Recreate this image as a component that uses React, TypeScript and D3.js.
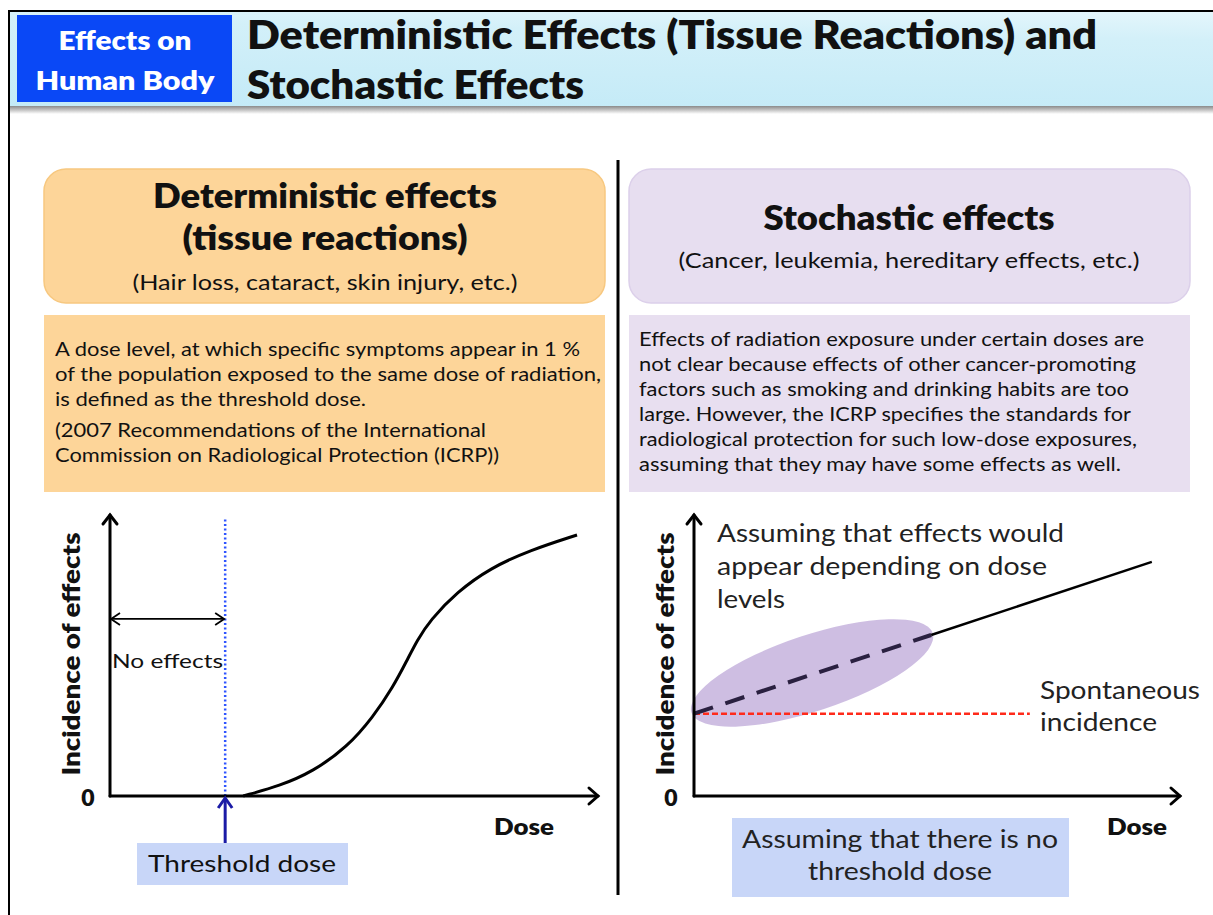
import React from 'react';
import * as d3 from 'd3';

// ---- text content ----
const BADGE_LINES = ['Effects on', 'Human Body'];
const TITLE_LINES = ['Deterministic Effects (Tissue Reactions) and', 'Stochastic Effects'];

const DET_HEADING = ['Deterministic effects', '(tissue reactions)'];
const DET_EXAMPLES = '(Hair loss, cataract, skin injury, etc.)';
const DET_PARAGRAPH = [
  'A dose level, at which specific symptoms appear in 1 %',
  'of the population exposed to the same dose of radiation,',
  'is defined as the threshold dose.',
  '(2007 Recommendations of the International',
  'Commission on Radiological Protection (ICRP))',
];
const DET_PARAGRAPH_WIDTHS = [525, 546, 311, 431, 444];

const STO_HEADING = 'Stochastic effects';
const STO_EXAMPLES = '(Cancer, leukemia, hereditary effects, etc.)';
const STO_PARAGRAPH = [
  'Effects of radiation exposure under certain doses are',
  'not clear because effects of other cancer-promoting',
  'factors such as smoking and drinking habits are too',
  'large. However, the ICRP specifies the standards for',
  'radiological protection for such low-dose exposures,',
  'assuming that they may have some effects as well.',
];
const STO_PARAGRAPH_WIDTHS = [505, 497, 490, 492, 498, 482];

const STO_NOTE = ['Assuming that effects would', 'appear depending on dose', 'levels'];
const SPONT_LABEL = ['Spontaneous', 'incidence'];
const NO_THRESHOLD_LABEL = ['Assuming that there is no', 'threshold dose'];

// ---- chart values (dose / incidence, 0..100 schematic units) ----
const DET_CURVE_DOSE = [27.3, 27.3, 34.8, 41.6, 48.6, 53.9, 58.0, 60.9, 62.9, 65.6, 71.1, 77.9, 86.1, 95.7, 95.7];
const DET_CURVE_INCIDENCE = [0, 0, 3.6, 8.7, 17.4, 28.1, 38.8, 48.4, 55.3, 62.6, 72.6, 81.1, 87.5, 92.9, 92.9];
const THRESHOLD_DOSE = 23.6;
const NO_EFFECT_LEVEL = 63;

const LNT_DOSE = [0, 48.8, 94.2];
const LNT_INCIDENCE = [29.3, 57.3, 83.3];
const SPONT_DOSE = [0, 69.1];
const SPONT_INCIDENCE = [29.3, 29.3];
const UNCERTAIN_CENTER = [24.3, 43.8]; // dose, incidence

const FONT = "Lato, Carlito, 'Open Sans', sans-serif";

type Pt = [number, number];

const T: React.FC<{
  x: number; y: number; size: number; w?: number; bold?: boolean;
  anchor?: 'start' | 'middle' | 'end'; fill?: string; children: string; transform?: string;
}> = ({ x, y, size, w, bold, anchor = 'start', fill = '#111', children, transform }) => (
  <text
    x={x} y={y} fontSize={size} fontWeight={bold ? 800 : 400} textAnchor={anchor}
    fill={fill} fontFamily={FONT} transform={transform}
    {...(w ? { textLength: w, lengthAdjust: 'spacingAndGlyphs' } : {})}
  >{children}</text>
);

const Axes: React.FC<{ x0: number; x1: number; y0: number; y1: number }> = ({ x0, x1, y0, y1 }) => (
  <g stroke="#000" strokeWidth={3} fill="none" strokeLinecap="round">
    <line x1={x0} y1={y0} x2={x1} y2={y0} />
    <line x1={x0} y1={y0} x2={x0} y2={y1} />
    <path d={`M${x1 - 9},${y0 - 8} L${x1},${y0} L${x1 - 9},${y0 + 8}`} />
    <path d={`M${x0 - 7},${y1 + 9} L${x0},${y1} L${x0 + 7},${y1 + 9}`} />
  </g>
);

export default function App() {
  // left chart scales
  const xL = d3.scaleLinear().domain([0, 100]).range([110, 598]);
  const yL = d3.scaleLinear().domain([0, 100]).range([796, 515]);
  // right chart scales
  const xR = d3.scaleLinear().domain([0, 100]).range([694, 1180]);
  const yR = d3.scaleLinear().domain([0, 100]).range([796, 515]);

  const detPts: Pt[] = DET_CURVE_DOSE.map((d, i) => [d, DET_CURVE_INCIDENCE[i]]);
  const detLine = d3.line<Pt>().x(d => xL(d[0])).y(d => yL(d[1])).curve(d3.curveBasis);

  const lnt: Pt[] = LNT_DOSE.map((d, i) => [d, LNT_INCIDENCE[i]]);
  const lineR = d3.line<Pt>().x(d => xR(d[0])).y(d => yR(d[1]));
  const spont: Pt[] = SPONT_DOSE.map((d, i) => [d, SPONT_INCIDENCE[i]]);

  const thX = xL(THRESHOLD_DOSE);
  const noEffY = yL(NO_EFFECT_LEVEL);
  const ex = xR(UNCERTAIN_CENTER[0]);
  const ey = yR(UNCERTAIN_CENTER[1]);

  return (
    <svg width={1213} height={915} style={{ position: 'absolute', left: 0, top: 0, background: '#fff' }}>
      <defs>
        <linearGradient id="hdr" x1="0" y1="1" x2="0.35" y2="-0.6">
          <stop offset="0" stopColor="#c3eaf7" />
          <stop offset="0.55" stopColor="#d3f0f9" />
          <stop offset="1" stopColor="#ffffff" />
        </linearGradient>
        <linearGradient id="shadow" x1="0" y1="0" x2="0" y2="1">
          <stop offset="0" stopColor="#8a8a8a" />
          <stop offset="1" stopColor="#ffffff" />
        </linearGradient>
      </defs>

      {/* page frame & header */}
      <rect x={10} y={12} width={1203} height={95} fill="url(#hdr)" />
      <rect x={10} y={106} width={1203} height={8} fill="url(#shadow)" />
      <line x1={8} y1={11} x2={1213} y2={11} stroke="#000" strokeWidth={2} />
      <line x1={9} y1={11} x2={9} y2={915} stroke="#000" strokeWidth={2} />
      <rect x={17} y={15} width={215} height={87} fill="#0a48f6" />
      {BADGE_LINES.map((s, i) => (
        <T key={s} x={125} y={50 + i * 40} size={27} anchor="middle" fill="#fff" bold
          w={i === 0 ? 133 : 179}>{s}</T>
      ))}
      {TITLE_LINES.map((s, i) => (
        <T key={s} x={247} y={49 + i * 50} size={39} bold w={i === 0 ? 850 : 337}>{s}</T>
      ))}

      {/* divider */}
      <line x1={618} y1={160} x2={618} y2={895} stroke="#000" strokeWidth={3} />

      {/* left panel boxes */}
      <rect x={44} y={169} width={561} height={134} rx={22} fill="#fdd599" stroke="#f7c880" strokeWidth={1.5} />
      <T x={325} y={208} size={33} bold anchor="middle" w={344}>{DET_HEADING[0]}</T>
      <T x={325} y={250} size={33} bold anchor="middle" w={285}>{DET_HEADING[1]}</T>
      <T x={325} y={290} size={21} anchor="middle" w={385}>{DET_EXAMPLES}</T>
      <rect x={44} y={315} width={561} height={177} fill="#fdd599" />
      {DET_PARAGRAPH.map((s, i) => (
        <T key={s} x={55} y={i < 3 ? 356 + i * 25 : 437 + (i - 3) * 25} size={19} w={DET_PARAGRAPH_WIDTHS[i]}>{s}</T>
      ))}

      {/* right panel boxes */}
      <rect x={629} y={169} width={561} height={134} rx={22} fill="#e7def0" stroke="#dcd0ea" strokeWidth={1.5} />
      <T x={909} y={230} size={33} bold anchor="middle" w={291}>{STO_HEADING}</T>
      <T x={909} y={268} size={21} anchor="middle" w={461}>{STO_EXAMPLES}</T>
      <rect x={629} y={315} width={561} height={177} fill="#e8dff0" />
      {STO_PARAGRAPH.map((s, i) => (
        <T key={s} x={639} y={346 + i * 25} size={18.5} w={STO_PARAGRAPH_WIDTHS[i]}>{s}</T>
      ))}

      {/* ---- left chart: deterministic ---- */}
      <line x1={thX} y1={yL(0)} x2={thX} y2={yL(99)} stroke="#2f55ff" strokeWidth={2.5} strokeDasharray="2,2.5" />
      <Axes x0={xL(0)} x1={xL(100)} y0={yL(0)} y1={yL(100)} />
      <path d={detLine(detPts) || ''} fill="none" stroke="#000" strokeWidth={3} />
      <g stroke="#000" strokeWidth={1.8} fill="none">
        <line x1={xL(0) + 1} y1={noEffY} x2={thX - 1} y2={noEffY} />
        <path d={`M${xL(0) + 10},${noEffY - 6} L${xL(0) + 1},${noEffY} L${xL(0) + 10},${noEffY + 6}`} />
        <path d={`M${thX - 10},${noEffY - 6} L${thX - 1},${noEffY} L${thX - 10},${noEffY + 6}`} />
      </g>
      <T x={112} y={668} size={19} w={111}>No effects</T>
      <T x={88} y={806} size={23} bold anchor="middle">0</T>
      <T x={554} y={835} size={23} bold anchor="end" w={60}>Dose</T>
      <T x={0} y={0} size={24} bold anchor="middle" w={243} transform="translate(80,654) rotate(-90)">Incidence of effects</T>
      <g stroke="#1b1ba6" strokeWidth={3} fill="none">
        <line x1={thX} y1={845} x2={thX} y2={yL(0) + 3} />
        <path d={`M${thX - 7},${yL(0) + 12} L${thX},${yL(0) + 2} L${thX + 7},${yL(0) + 12}`} />
      </g>
      <rect x={137} y={843} width={211} height={42} fill="#c8d6f8" />
      <T x={242} y={872} size={24} anchor="middle" w={188}>Threshold dose</T>

      {/* ---- right chart: stochastic ---- */}
      <ellipse cx={ex} cy={ey} rx={127} ry={38} fill="#bda8d8" opacity={0.75}
        transform={`rotate(-18.3 ${ex} ${ey})`} />
      <path d={lineR(spont) || ''} fill="none" stroke="#ff2a1a" strokeWidth={2.5} strokeDasharray="6,3" />
      <path d={lineR(lnt.slice(0, 2)) || ''} fill="none" stroke="#2a2040" strokeWidth={4} strokeDasharray="20,13" />
      <path d={lineR(lnt.slice(1)) || ''} fill="none" stroke="#000" strokeWidth={2.5} />
      <Axes x0={xR(0)} x1={xR(100)} y0={yR(0)} y1={yR(100)} />
      {STO_NOTE.map((s, i) => (
        <T key={s} x={717} y={542 + i * 33} size={25} fill="#222" w={[347, 330, 68][i]}>{s}</T>
      ))}
      {SPONT_LABEL.map((s, i) => (
        <T key={s} x={1040} y={699 + i * 32} size={25} fill="#222" w={[160, 117][i]}>{s}</T>
      ))}
      <T x={671} y={806} size={23} bold anchor="middle">0</T>
      <T x={1167} y={835} size={23} bold anchor="end" w={60}>Dose</T>
      <T x={0} y={0} size={24} bold anchor="middle" w={243} transform="translate(674,654) rotate(-90)">Incidence of effects</T>
      <rect x={732} y={818} width={337} height={79} fill="#c8d6f8" />
      {NO_THRESHOLD_LABEL.map((s, i) => (
        <T key={s} x={900} y={848 + i * 32} size={25} anchor="middle" fill="#222" w={[316, 184][i]}>{s}</T>
      ))}
    </svg>
  );
}
